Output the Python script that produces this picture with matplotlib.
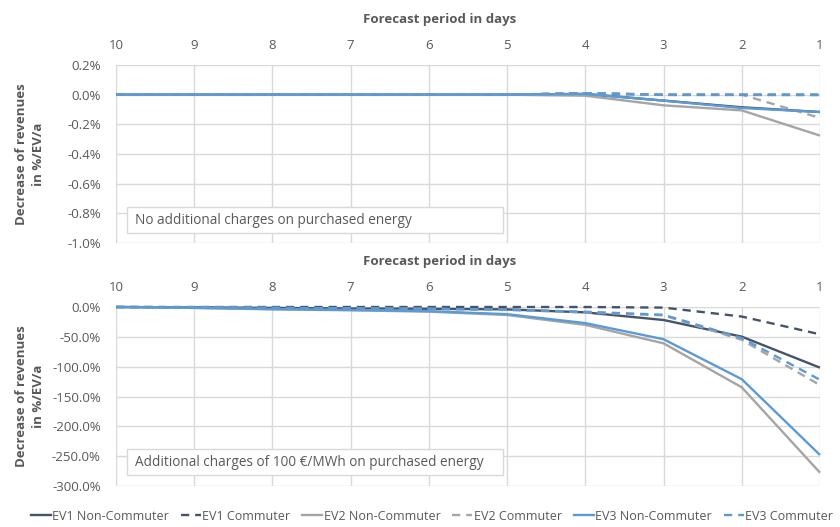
import matplotlib
matplotlib.use("Agg")
import matplotlib.pyplot as plt
from matplotlib.lines import Line2D
from matplotlib.patches import Rectangle

plt.rcParams['font.family'] = ['Open Sans', 'DejaVu Sans']

days = [10, 9, 8, 7, 6, 5, 4, 3, 2, 1]

# Panel 1: no additional charges (values in %)
top_ev1_nc = [0, 0, 0, 0, 0, 0, 0.005, -0.04, -0.085, -0.117]
top_ev1_c = [0, 0, 0, 0, 0, 0, 0.01, 0.0, 0.0, 0.0]
top_ev2_nc = [0, 0, 0, 0, 0, 0, -0.007, -0.072, -0.106, -0.276]
top_ev2_c = [0, 0, 0, 0, 0, 0, 0.01, 0.0, 0.0, -0.157]
top_ev3_nc = [0, 0, 0, 0, 0, 0, 0.005, -0.04, -0.09, -0.117]
top_ev3_c = [0, 0, 0, 0, 0, 0, 0.01, -0.002, -0.002, -0.003]

# Panel 2: additional charges of 100 €/MWh (values in %)
bot_ev1_nc = [0, -0.5, -1.5, -2.5, -3, -4, -9, -21.8, -49.7, -101.7]
bot_ev1_c = [0, 0, 0, 0, 0, 0, 0, -1, -16, -45.8]
bot_ev2_nc = [0, -1.5, -4, -5.5, -7.8, -13.4, -30, -60.9, -134.6, -277.7]
bot_ev2_c = [0, -0.5, -1.5, -2.5, -3, -5, -9, -14, -55, -131]
bot_ev3_nc = [0, -1.5, -3.5, -5, -7, -12, -27, -54, -121, -248]
bot_ev3_c = [0, -0.5, -1.5, -2.5, -3, -4.5, -8, -13, -52, -122]

top_ticks = [0.2, 0.0, -0.2, -0.4, -0.6, -0.8, -1.0]
bot_ticks = [0, -50, -100, -150, -200, -250, -300]

labels = ["EV1 Non-Commuter", "EV1 Commuter", "EV2 Non-Commuter",
          "EV2 Commuter", "EV3 Non-Commuter", "EV3 Commuter"]
colors = ["#44546A", "#44546A", "#A5A5A5", "#A5A5A5", "#5B9BD5", "#5B9BD5"]
styles = ["-", (0, (3.5, 2.5)), "-", (0, (3.5, 2.5)), "-", (0, (3.5, 2.5))]

top_series = [top_ev1_nc, top_ev1_c, top_ev2_nc, top_ev2_c, top_ev3_nc, top_ev3_c]
bot_series = [bot_ev1_nc, bot_ev1_c, bot_ev2_nc, bot_ev2_c, bot_ev3_nc, bot_ev3_c]

text_col = "#595959"
grid_col = "#D9D9D9"
lw = 1.7

fig = plt.figure(figsize=(8.4, 5.27), dpi=100)
W, H = 840, 527
ax1 = fig.add_axes([116 / W, 1 - 243 / H, (820 - 116) / W, (243 - 65) / H])
ax2 = fig.add_axes([116 / W, 1 - 486 / H, (820 - 116) / W, (486 - 307) / H])


def style_axis(ax, ticks, fmt, lo, hi, note, box_y0, box_y1, title_y):
    ax.set_xlim(10, 1)
    ax.set_ylim(lo, hi)
    ax.set_xticks(days)
    ax.set_xticklabels([str(d) for d in days])
    ax.xaxis.tick_top()
    ax.set_yticks(ticks)
    ax.set_yticklabels([fmt(t) for t in ticks])
    ax.tick_params(axis='y', length=0, labelsize=9.5, colors=text_col, pad=11)
    ax.tick_params(axis='x', length=0, labelsize=9.5, colors=text_col, pad=9.5)
    ax.grid(True, color=grid_col, linewidth=1)
    for s in ax.spines.values():
        s.set_visible(False)
    ax.set_axisbelow(True)

    # axis titles
    fig.text(440 / W, 1 - title_y / H, "Forecast period in days", fontsize=9.5,
             fontweight='bold', color=text_col, ha='center', va='center')
    pos = ax.get_position()
    fig.text(30 / W, (pos.y0 + pos.y1) / 2, "Decrease of revenues\nin %/EV/a",
             fontsize=9.5, fontweight='bold', color=text_col, rotation=90,
             ha='center', va='center', multialignment='center',
             linespacing=1.45)

    # scenario note
    ax.add_patch(Rectangle((0.0156, box_y0), 0.534, box_y1 - box_y0,
                           transform=ax.transAxes, fc='white', ec=grid_col,
                           lw=1, zorder=4))
    ax.text(0.027, (box_y0 + box_y1) / 2, note, transform=ax.transAxes,
            fontsize=9.8, color=text_col, va='center', ha='left', zorder=5)


style_axis(ax1, top_ticks, lambda t: f"{t:.1f}%", -1.0, 0.2,
           "No additional charges on purchased energy", 0.056, 0.202, 19)
style_axis(ax2, bot_ticks, lambda t: f"{t:.1f}%", -300, 0,
           "Additional charges of 100 €/MWh on purchased energy", 0.061, 0.207, 262)

for ax, series in ((ax1, top_series), (ax2, bot_series)):
    for vals, c, ls in zip(series, colors, styles):
        ax.plot(days, vals, color=c, linestyle=ls, linewidth=lw, clip_on=False,
                solid_capstyle='butt', dash_capstyle='butt', zorder=3)

handles = [Line2D([0], [0], color=c, linestyle=ls, linewidth=lw)
           for c, ls in zip(colors, styles)]
fig.legend(handles, labels, loc='center', bbox_to_anchor=(432 / W, 1 - 516 / H),
           ncol=6, frameon=False, fontsize=9, handlelength=1.6,
           handletextpad=0.1, columnspacing=0.95, labelcolor=text_col)

fig.savefig("out.png", dpi=100)
